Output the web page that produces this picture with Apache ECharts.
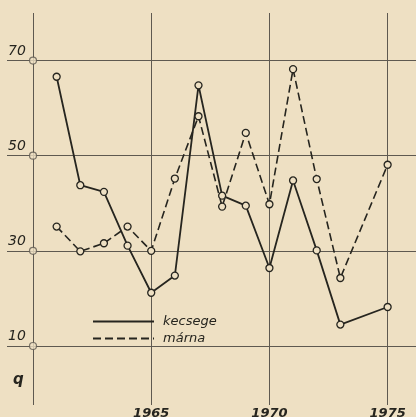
<!DOCTYPE html>
<html>
<head>
<meta charset="utf-8">
<script src="https://cdn.jsdelivr.net/npm/echarts@6/dist/echarts.min.js"></script>
<style>
html,body{margin:0;padding:0;background:#EEE0C3;}
#c{width:416px;height:417px;}
</style>
</head>
<body>
<div id="c"></div>
<script>
var years = [1961, 1962, 1963, 1964, 1965, 1966, 1967, 1968, 1969, 1970, 1971, 1972, 1973, 1975];
var kecsege = [66.6, 43.8, 42.4, 31.1, 21.2, 24.8, 64.8, 41.6, 39.5, 26.4, 44.8, 30.1, 14.5, 18.2];
var marna = [35.1, 29.9, 31.6, 35.1, 30.0, 45.2, 58.3, 39.3, 54.8, 39.8, 68.2, 45.1, 24.3, 48.1];
var xGridYears = [1960, 1965, 1970, 1975];
var xTickLabels = [1965, 1970, 1975];
var yTicks = [10, 30, 50, 70];
var seriesNames = ['kecsege', 'márna'];
var unitLabel = 'q';

var ink = '#26251f';
var gridInk = '#5e5950';
var paper = '#EEE0C3';

function pairs(xs, ys) { return xs.map(function (x, i) { return [x, ys[i]]; }); }

var chart = echarts.init(document.getElementById('c'), null, {renderer: 'canvas'});
chart.setOption({
  backgroundColor: paper,
  animation: false,
  grid: {left: 7, right: 0, top: 13, bottom: 12, containLabel: false, outerBoundsMode: 'none'},
  xAxis: {
    type: 'value', min: 1958.9, max: 1976.2,
    axisLine: {show: false},
    axisTick: {show: false, customValues: xGridYears},
    splitLine: {show: true, lineStyle: {color: gridInk, width: 1}},
    axisLabel: {
      customValues: xTickLabels, margin: 2, color: ink,
      formatter: function (v) { return String(v); },
      fontFamily: 'DejaVu Sans', fontStyle: 'italic', fontWeight: 'bold', fontSize: 13
    }
  },
  yAxis: {
    type: 'value', min: -2.4, max: 80,
    axisLine: {show: false},
    axisTick: {show: false, customValues: yTicks},
    splitLine: {show: true, lineStyle: {color: gridInk, width: 1}},
    axisLabel: {
      customValues: yTicks, inside: true, margin: 1, align: 'left',
      verticalAlign: 'bottom', lineHeight: 19, color: ink,
      fontFamily: 'DejaVu Sans', fontStyle: 'italic', fontSize: 14
    }
  },
  legend: {
    orient: 'vertical', left: 92, top: 315, padding: 0,
    itemWidth: 61, itemHeight: 12, itemGap: 4,
    itemStyle: {opacity: 0},
    textStyle: {
      color: ink, fontFamily: 'DejaVu Sans', fontStyle: 'italic',
      fontSize: 13, padding: [0, 0, 0, 4]
    },
    data: seriesNames
  },
  graphic: [{
    type: 'text', left: 13, top: 373,
    style: {text: unitLabel, fill: ink, font: 'italic bold 15px "DejaVu Sans"'}
  }],
  series: [
    {
      name: seriesNames[0], type: 'line', data: pairs(years, kecsege),
      symbol: 'circle', symbolSize: 7,
      lineStyle: {color: ink, width: 1.8, type: 'solid'},
      itemStyle: {color: paper, borderColor: ink, borderWidth: 1.3},
      z: 3
    },
    {
      name: seriesNames[1], type: 'line', data: pairs(years, marna),
      symbol: 'circle', symbolSize: 7,
      lineStyle: {color: ink, width: 1.6, type: [8, 4]},
      itemStyle: {color: paper, borderColor: ink, borderWidth: 1.3},
      z: 3
    },
    {
      name: 'axisMarks', type: 'scatter',
      data: yTicks.map(function (v) { return [xGridYears[0], v]; }),
      symbol: 'circle', symbolSize: 7,
      itemStyle: {color: paper, borderColor: gridInk, borderWidth: 1.2},
      silent: true, z: 4
    }
  ]
});
</script>
</body>
</html>
